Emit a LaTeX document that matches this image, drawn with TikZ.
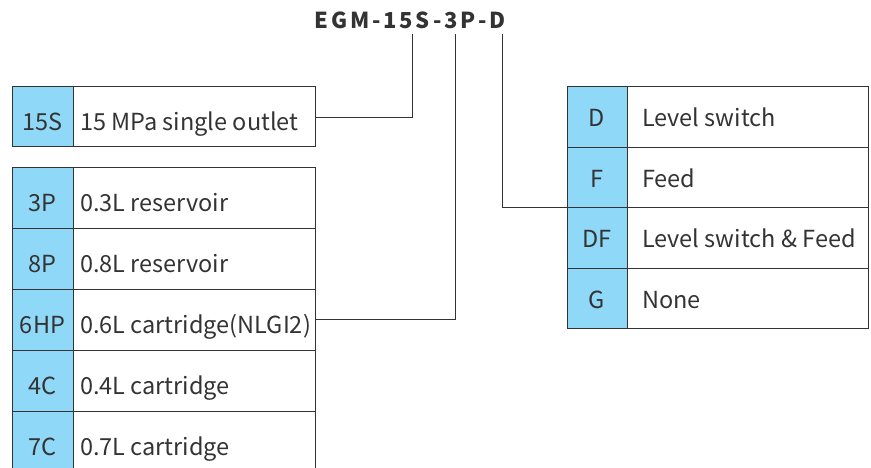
\documentclass[tikz,border=0pt]{standalone}
\usepackage{fontspec}
\setmainfont{Noto Sans CJK SC}
\definecolor{ink}{HTML}{333333}
\definecolor{cellblue}{HTML}{8FD8F7}
\tikzset{
  cell/.style={draw=ink, line width=0.9pt},
  codecell/.style={cell, fill=cellblue},
  codetxt/.style={anchor=base, text=ink, font=\fontsize{23.5}{26}\selectfont, inner sep=0pt},
  desctxt/.style={anchor=base west, text=ink, font=\fontsize{23.5}{26}\selectfont, inner sep=0pt},
  link/.style={draw=ink, line width=0.9pt},
}
\begin{document}
\begin{tikzpicture}[x=1pt,y=-1pt]
\useasboundingbox (0,0) rectangle (871,467);
% title
\node[anchor=base, text=ink, inner sep=0pt, font=\fontsize{22}{25}\selectfont\bfseries\addfontfeatures{LetterSpace=13}] (title) at (410,28) {EGM-15S-3P-D};
\coordinate (t1) at (412,34);
\coordinate (t2) at (455,34);
\coordinate (t3) at (502,34);
% 15S box
\draw[codecell] (12,86) rectangle (73,146);
\draw[cell] (73,86) rectangle (315,146);
\node[codetxt] (c15S) at (42.5,130) {15S};
\node[desctxt] (d15S) at (80,130) {15 MPa single outlet};
\coordinate (b15S) at (315,117);
% left table
\foreach \code/\desc [count=\i from 0] in {3P/0.3L reservoir, 8P/0.8L reservoir, 6HP/0.6L cartridge(NLGI2), 4C/0.4L cartridge, 7C/0.7L cartridge}{
  \pgfmathsetmacro{\top}{167+61*\i}
  \pgfmathsetmacro{\bot}{\top+61}
  \pgfmathsetmacro{\base}{\top+44}
  \fill[cellblue] (12,\top) rectangle (73,\bot);
  \draw[cell] (12,\bot) -- (12,\top) -- (315,\top) -- (315,\bot);
  \draw[cell] (73,\top) -- (73,\bot);
  \node[codetxt] (lc\i) at (42.5,\base) {\code};
  \node[desctxt] (ld\i) at (80,\base) {\desc};
}
\coordinate (b6HP) at (315,319);
% right table
\foreach \code/\desc [count=\i from 0] in {D/Level switch, F/Feed, DF/Level switch \& Feed, G/None}{
  \pgfmathsetmacro{\top}{86.5+60.5*\i}
  \pgfmathsetmacro{\bot}{\top+60.5}
  \pgfmathsetmacro{\base}{\top+40}
  \draw[codecell] (567,\top) rectangle (627,\bot);
  \draw[cell] (627,\top) rectangle (868,\bot);
  \node[codetxt] (rc\i) at (597,\base) {\code};
  \node[desctxt] (rd\i) at (642,\base) {\desc};
}
\coordinate (bD) at (567,207);
% connectors
\draw[link] (b15S) -| (t1);
\draw[link] (b6HP) -| (t2);
\draw[link] (bD) -| (t3);
\end{tikzpicture}
\end{document}
